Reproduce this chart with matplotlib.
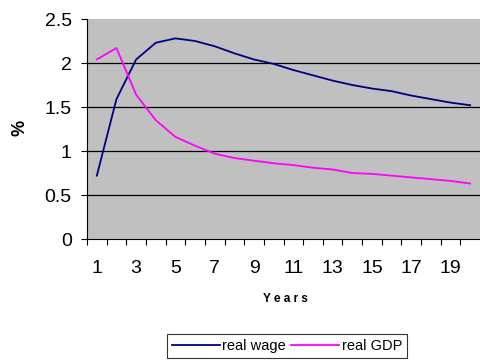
import numpy as np
import matplotlib
matplotlib.use("Agg")
import matplotlib.pyplot as plt

years = list(range(1, 21))
real_wage = [0.72, 1.59, 2.04, 2.23, 2.28, 2.25, 2.19, 2.11, 2.04, 1.99,
             1.92, 1.86, 1.80, 1.75, 1.71, 1.68, 1.63, 1.59, 1.55, 1.52]
real_gdp = [2.04, 2.17, 1.64, 1.35, 1.16, 1.06, 0.97, 0.92, 0.89, 0.86,
            0.84, 0.81, 0.79, 0.75, 0.74, 0.72, 0.70, 0.68, 0.66, 0.63]
x_labels = [str(y) for y in years[::2]]
y_ticks = [0, 0.5, 1, 1.5, 2, 2.5]
y_labels = ['0', '0.5', '1', '1.5', '2', '2.5']

plt.rcParams['font.family'] = ['Liberation Sans', 'DejaVu Sans']

fig = plt.figure(figsize=(4.8, 3.6), dpi=100)
ax = fig.add_axes([87 / 480, 1 - 239 / 360, 393 / 480, 220 / 360])
ax.set_facecolor('#C0C0C0')

for v in y_ticks[1:-1]:
    ax.axhline(v, color='black', lw=0.9, zorder=1)

wagePlot, = ax.plot(years, real_wage, color='#000080', lw=1.3, zorder=3)
gdpPlot, = ax.plot(years, real_gdp, color='#FF00FF', lw=1.3, zorder=3)

ax.set_xlim(0.5, 20.5)
ax.set_ylim(0, 2.5)
ax.set_yticks(y_ticks)
ax.set_yticklabels(y_labels)

# category ticks sit between the categories, labels on every other one
ax.set_xticks(np.arange(0.5, 20.5, 1.0))
ax.set_xticklabels([])
ax.set_xticks(years[::2], minor=True)
ax.set_xticklabels(x_labels, minor=True)
ax.tick_params(axis='x', which='major', direction='out', length=4, width=0.8)
ax.tick_params(axis='x', which='minor', length=0, pad=15, labelsize=14)
ax.tick_params(axis='y', direction='out', length=4, width=0.8, labelsize=14, pad=7)

for side in ('top', 'right'):
    ax.spines[side].set_visible(False)
ax.spines['left'].set_linewidth(0.8)
ax.spines['bottom'].set_linewidth(0.8)

fig.text(285 / 480, 1 - 299 / 360, 'Y e a r s', ha='center',
         va='center', fontsize=8.5, fontweight='bold')
fig.text(20 / 480, 1 - 128 / 360, '%', ha='center', va='center',
         fontsize=13, fontweight='bold', rotation=90)

leg = fig.legend([wagePlot, gdpPlot], ['real wage', 'real GDP'],
                 loc='upper center', bbox_to_anchor=(287 / 480, 1 - 334 / 360),
                 ncol=2, frameon=True, fancybox=False, fontsize=10.5,
                 handlelength=3.3, handletextpad=0.15, columnspacing=0.35,
                 borderpad=0.35, borderaxespad=0)
leg.get_frame().set_edgecolor('black')
leg.get_frame().set_linewidth(0.8)

plt.savefig('out.png', dpi=100)
plt.close()
